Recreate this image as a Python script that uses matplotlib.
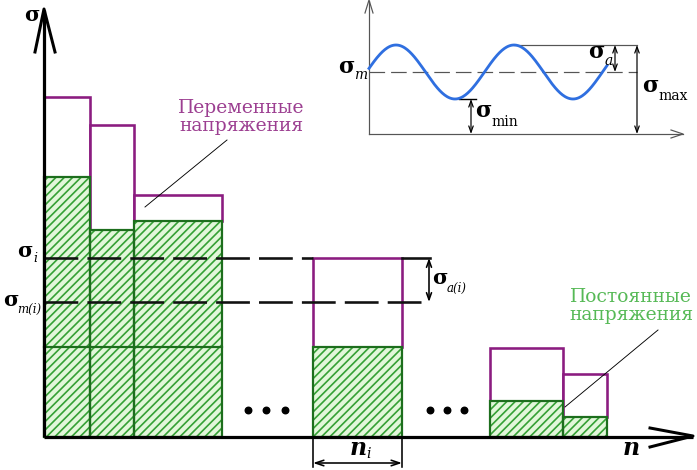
import matplotlib
matplotlib.use("Agg")
import matplotlib.pyplot as plt
import numpy as np

W, H, DPI = 697, 470, 100
PX = 72.0 / DPI  # points per pixel

COLORS = {
    "purple": "#8b1c80",
    "purple_text": "#9c3f91",
    "green_fill": "#e2f7da",
    "green_hatch": "#35a035",
    "green_edge": "#1d6e1d",
    "green_text": "#56b956",
    "wave": "#2f6fe0",
    "gray": "#555555",
}

# --- main diagram: block loading spectrum (units = px above the n axis) ---
bar_left = [0, 46, 90, 269, 446, 519]
bar_width = [46, 44, 88, 89, 73, 44]
sigma_top = [340, 312, 242, 179, 89, 63]       # variable stress (upper level)
sigma_const = [260, 207, 216, 90, 36, 20]      # constant stress part
I_BAR = 3                                      # highlighted block "i"
sigma_m_i = 135                                # mean level of block i
dots_x = [204, 222, 241, 386, 403, 420]
dots_y = [27, 27, 27, 27, 27, 27]

# --- inset: one stress cycle (units = px from inset origin) ---
wave_mean = 62
wave_amp = 27
wave_period = 118
wave_peak_x = 27
wave_x_end = 238


def serif(**kw):
    d = dict(family="DejaVu Serif", color="black", zorder=10)
    d.update(kw)
    return d


def sigma_label(ax, x, y, sub, size, subsize, dx, dy, sub_style="italic"):
    ax.text(x, y, "σ", ha="center", va="center", fontsize=size,
            fontweight="bold", clip_on=False, **serif())
    if sub:
        ax.annotate(sub, (x, y), xytext=(dx * PX, dy * PX), textcoords="offset points",
                    ha="left", va="center", fontsize=subsize, style=sub_style,
                    annotation_clip=False, **serif())


plt.rcParams["hatch.linewidth"] = 1.2
fig = plt.figure(figsize=(W / DPI, H / DPI), dpi=DPI)
ax = fig.add_axes([0, 0, 1, 1])
ax.set_xlim(-44, W - 44)
ax.set_ylim(-(H - 437), 437)
ax.set_axis_off()

# variable part (white with purple outline)
heights = np.array(sigma_top) - np.array(sigma_const)
ax.bar(bar_left, heights, width=bar_width, bottom=sigma_const, align="edge",
       facecolor="white", edgecolor=COLORS["purple"], lw=2.6 * PX, zorder=2)
# constant part (hatched green)
ax.bar(bar_left, sigma_const, width=bar_width, align="edge",
       facecolor=COLORS["green_fill"], edgecolor=COLORS["green_hatch"],
       hatch="////", lw=0, zorder=3)
ax.bar(bar_left, sigma_const, width=bar_width, align="edge", fill=False,
       edgecolor=COLORS["green_edge"], lw=2.2 * PX, zorder=4)

# levels of block i carried across the left group
left_end = bar_left[2] + bar_width[2]
ax.plot([0, left_end], [sigma_const[I_BAR]] * 2, color=COLORS["green_edge"], lw=2.2 * PX, zorder=4)
dash = (0, (13, 3.5))
ax.plot([0, bar_left[I_BAR]], [sigma_top[I_BAR]] * 2, color="#111111", lw=2.6 * PX,
        ls=dash, zorder=5)
x_dim = bar_left[I_BAR] + bar_width[I_BAR] + 28
ax.plot([bar_left[I_BAR] + bar_width[I_BAR], x_dim], [sigma_top[I_BAR]] * 2,
        color="#111111", lw=2.6 * PX, zorder=5)
ax.plot([0, x_dim], [sigma_m_i] * 2, color="#111111", lw=2.6 * PX, ls=dash, zorder=5)
ax.annotate("", xy=(x_dim - 1, sigma_m_i), xytext=(x_dim - 1, sigma_top[I_BAR]),
            arrowprops=dict(arrowstyle="<->,head_length=0.5,head_width=0.18",
                            lw=1.6 * PX, color="black", shrinkA=0, shrinkB=0))

# n_i dimension
xi0, xi1 = bar_left[I_BAR], bar_left[I_BAR] + bar_width[I_BAR]
for xv in (xi0, xi1):
    ax.plot([xv, xv], [0, -30], color="black", lw=1.6 * PX, clip_on=False)
ax.annotate("", xy=(xi0, -26), xytext=(xi1, -26),
            arrowprops=dict(arrowstyle="<->,head_length=0.6,head_width=0.2",
                            lw=1.6 * PX, color="black", shrinkA=0, shrinkB=0))

# axes with open chevron heads
ax.plot([0, 0], [0, 427], color="black", lw=3.2 * PX, zorder=6, solid_capstyle="butt")
ax.plot([0, 649], [0, 0], color="black", lw=3.2 * PX, zorder=6, solid_capstyle="butt")
ax.plot([-9, 0, 11], [385, 428, 385], color="black", lw=3.0 * PX, zorder=6)
ax.plot([606, 649, 606], [9, 1, -10], color="black", lw=3.0 * PX, zorder=6)

ax.scatter(dots_x, dots_y, s=22, color="black", zorder=6)

# leader lines and captions
ax.plot([183, 101], [297, 230], color="black", lw=0.9 * PX, zorder=6)
ax.plot([614, 521], [107, 30], color="black", lw=0.9 * PX, zorder=6)
ax.text(197, 320, "Переменные\nнапряжения", ha="center", va="center", fontsize=13.5,
        linespacing=1.05, **serif(color=COLORS["purple_text"]))
ax.text(587, 131, "Постоянные\nнапряжения", ha="center", va="center", fontsize=13.5,
        linespacing=1.05, **serif(color=COLORS["green_text"]))

# stress labels
sigma_label(ax, -12, 422, None, 15, 0, 0, 0)
sigma_label(ax, -19, 186, "i", 15, 9, 8, -8)
sigma_label(ax, -33, 137, "m(i)", 15, 8.5, 6, -9)
sigma_label(ax, 396, 159, "a(i)", 15, 8.5, 7, -10)
ax.text(314, -11, "n", ha="center", va="center", fontsize=17, fontweight="bold",
        style="italic", **serif())
ax.annotate("i", (314, -11), xytext=(8 * PX, -6 * PX), textcoords="offset points",
            ha="left", va="center", fontsize=10, style="italic", **serif())
ax.text(587, -11, "n", ha="center", va="center", fontsize=17, fontweight="bold",
        style="italic", **serif())

# --- inset ---
ins = fig.add_axes([369 / W, (H - 134) / H, 314 / W, 134 / H])
ins.set_xlim(0, 314)
ins.set_ylim(0, 134)
ins.set_axis_off()
g = COLORS["gray"]
ins.plot([0, 0], [0, 133], color=g, lw=1.2 * PX, clip_on=False)
ins.plot([0, 314], [0, 0], color=g, lw=1.2 * PX, clip_on=False)
ins.plot([-4, 0, 4], [121, 134, 121], color=g, lw=1.2 * PX, clip_on=False)
ins.plot([302, 314, 302], [4, 0, -4], color=g, lw=1.2 * PX, clip_on=False)

xs = np.linspace(0, wave_x_end, 300)
ys = wave_mean + wave_amp * np.cos(2 * np.pi * (xs - wave_peak_x) / wave_period)
ins.plot(xs, ys, color=COLORS["wave"], lw=2.8 * PX, clip_on=False, zorder=3)

x_max = 268
peak2 = wave_peak_x + wave_period
ins.plot([0, x_max], [wave_mean] * 2, color=g, lw=1.2 * PX, ls=(0, (13, 5)), clip_on=False)
ins.plot([peak2, x_max], [wave_mean + wave_amp] * 2, color=g, lw=1.2 * PX, clip_on=False)
x_min = wave_peak_x + wave_period / 2 + 16
ins.plot([x_min - 12, x_min + 5], [wave_mean - wave_amp] * 2, color="black", lw=1.4 * PX,
         clip_on=False)
arr = dict(arrowstyle="<->,head_length=0.45,head_width=0.16", lw=1.2 * PX, color="black",
           shrinkA=0, shrinkB=0)
ins.annotate("", xy=(246, wave_mean), xytext=(246, wave_mean + wave_amp), arrowprops=arr,
             annotation_clip=False)
ins.annotate("", xy=(x_max, 0), xytext=(x_max, wave_mean + wave_amp), arrowprops=arr,
             annotation_clip=False)
ins.annotate("", xy=(x_min, 0), xytext=(x_min, wave_mean - wave_amp), arrowprops=arr,
             annotation_clip=False)

sigma_label(ins, -23, 67, "m", 16, 10, 8, -8)
sigma_label(ins, 227, 82, "a", 16, 10, 9, -9)
sigma_label(ins, 281, 48, "max", 16, 10, 8, -10, sub_style="normal")
sigma_label(ins, 114, 23, "min", 16, 10, 8, -11, sub_style="normal")

fig.savefig("out.png", dpi=DPI)
